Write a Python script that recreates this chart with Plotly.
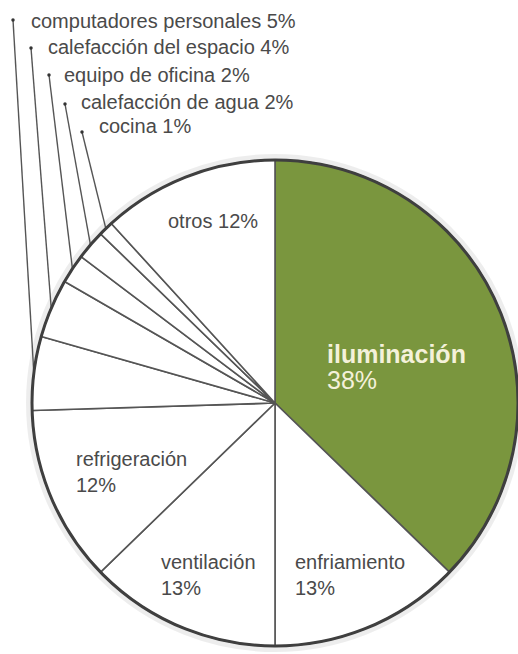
import math
import plotly.graph_objects as go

# Energy use by end use (percent)
labels = ["iluminación", "enfriamiento", "ventilación", "refrigeración",
          "computadores personales", "calefacción del espacio",
          "equipo de oficina", "calefacción de agua", "cocina", "otros"]
values = [38, 13, 13, 12, 5, 4, 2, 2, 1, 12]

# Slices whose labels sit above the pie with leader lines
callout_labels = ["computadores personales", "calefacción del espacio",
                  "equipo de oficina", "calefacción de agua", "cocina"]

# ---- layout constants (pixels) ----
W, H = 518, 654
CX, CY, R = 275, 403, 243
FONT = "Liberation Sans, Arial, Helvetica, sans-serif"
DARK = "#4a4a4a"
GREEN = "#7a963e"
CREAM = "#f4f1da"

slice_colors = [GREEN] + ["#ffffff"] * (len(labels) - 1)

# label anchor positions: (left x, baseline y)
inside_pos = {
    "otros": (167, 227),
    "refrigeración": (75, 465),
    "ventilación": (160, 568),
    "enfriamiento": (294, 568),
}
callout_text_pos = [(30, 27), (47, 53), (63, 81), (80, 108), (98, 132)]
callout_dot_pos = [(13, 20), (31, 48), (49, 75), (65, 104), (82, 132)]

fig = go.Figure()

# pie domain chosen so that the circle lands at (CX, CY) with radius R
dom_x = [(CX - R) / W, min(1.0, (CX + R) / W)]
dom_y = [(H - (CY + R)) / H, (H - (CY - R)) / H]

fig.add_trace(go.Pie(
    labels=labels, values=values, sort=False, direction="clockwise",
    rotation=0, textinfo="none", hoverinfo="label+value",
    marker=dict(colors=slice_colors, line=dict(color="#555555", width=1.6)),
    domain=dict(x=dom_x, y=dom_y), showlegend=False,
))

# leader lines from each small slice's outer edge to its label dot
total = sum(values)
cum = 0.0
mid_angle = {}
for lab, v in zip(labels, values):
    mid_angle[lab] = (cum + v / 2) / total * 2 * math.pi
    cum += v

for lab, (dx, dy) in zip(callout_labels, callout_dot_pos):
    th = mid_angle[lab]
    ex = CX + R * math.sin(th)
    ey = CY - R * math.cos(th)
    fig.add_trace(go.Scatter(
        x=[dx, ex], y=[dy, ey], mode="lines",
        line=dict(color="#555555", width=1.4),
        hoverinfo="skip", showlegend=False))
fig.add_trace(go.Scatter(
    x=[p[0] for p in callout_dot_pos], y=[p[1] for p in callout_dot_pos],
    mode="markers", marker=dict(color="#333333", size=3.5),
    hoverinfo="skip", showlegend=False))

# soft halo and heavier outer rim of the pie
fig.add_shape(type="circle", xref="x", yref="y",
              x0=CX - R - 2, x1=CX + R + 2, y0=CY - R - 2, y1=CY + R + 2,
              line=dict(color="rgba(0,0,0,0.07)", width=8), layer="below")
fig.add_shape(type="circle", xref="x", yref="y",
              x0=CX - R, x1=CX + R, y0=CY - R, y1=CY + R,
              line=dict(color="#3f3f3f", width=3), layer="above")

val = dict(zip(labels, values))


def add_text(x, baseline, text, size, color, bold=False):
    fig.add_annotation(
        x=x, y=baseline - 0.905 * size, xref="x", yref="y",
        xanchor="left", yanchor="top", text=f"<b>{text}</b>" if bold else text,
        showarrow=False, align="left", borderpad=0,
        font=dict(family=FONT, size=size, color=color))


# main slice label
add_text(326, 362, labels[0], 25, CREAM, bold=True)
add_text(326, 388, f"{values[0]}%", 25, CREAM)

# other in-pie labels
for lab, (x, b) in inside_pos.items():
    if lab == "otros":
        add_text(x, b, f"{lab} {val[lab]}%", 20, DARK)
    else:
        add_text(x, b, f"{lab}<br>{val[lab]}%", 20, DARK)

# callout labels above the pie
for lab, (x, b) in zip(callout_labels, callout_text_pos):
    add_text(x, b, f"{lab} {val[lab]}%", 20, DARK)

fig.update_layout(
    width=W, height=H, margin=dict(l=0, r=0, t=0, b=0),
    paper_bgcolor="white", plot_bgcolor="rgba(0,0,0,0)",
    xaxis=dict(range=[0, W], visible=False, fixedrange=True),
    yaxis=dict(range=[H, 0], visible=False, fixedrange=True),
)

fig.write_html("out.html")
